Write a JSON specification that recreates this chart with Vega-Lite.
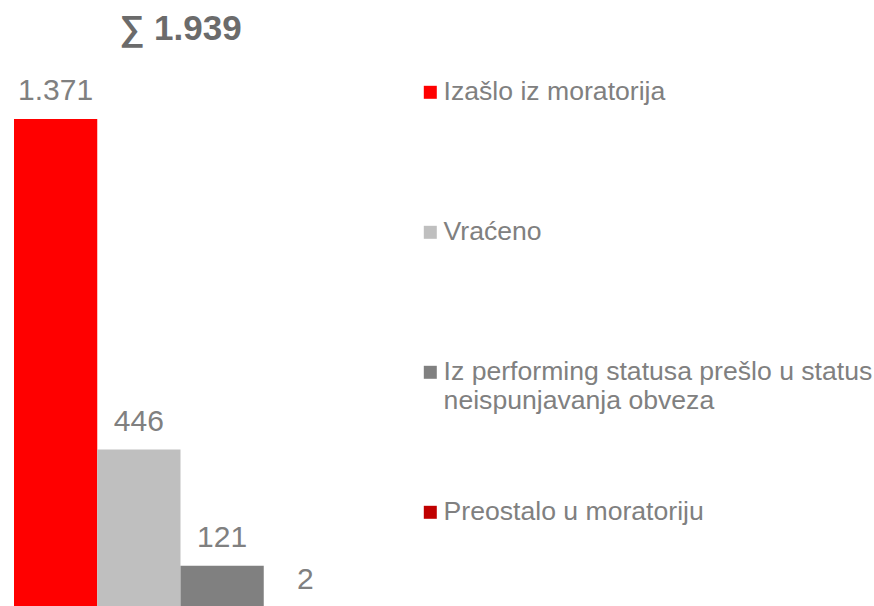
{
  "$schema": "https://vega.github.io/schema/vega-lite/v6.json",
  "width": 333,
  "height": 490,
  "autosize": "none",
  "padding": {"left": 14, "top": 119, "right": 527, "bottom": 0},
  "title": {
    "text": "∑ 1.939",
    "fontSize": 35,
    "fontWeight": "bold",
    "font": "Liberation Sans",
    "color": "#6b6b6b",
    "anchor": "middle",
    "offset": 29
  },
  "data": {
    "values": [
      {"cat": "Izašlo iz moratorija", "value": 1371, "lbl": "1.371"},
      {"cat": "Vraćeno", "value": 446, "lbl": "446"},
      {"cat": "Iz performing statusa prešlo u status neispunjavanja obveza", "value": 121, "lbl": "121"},
      {"cat": "Preostalo u moratoriju", "value": 2, "lbl": "2"}
    ]
  },
  "encoding": {
    "x": {"field": "cat", "type": "nominal", "sort": null, "scale": {"paddingInner": 0, "paddingOuter": 0}, "axis": null},
    "y": {"field": "value", "type": "quantitative", "scale": {"domain": [0, 1371]}, "axis": null}
  },
  "layer": [
    {
      "mark": {"type": "bar"},
      "encoding": {
        "color": {
          "field": "cat",
          "type": "nominal",
          "sort": null,
          "scale": {
            "domain": ["Izašlo iz moratorija", "Vraćeno", "Iz performing statusa prešlo u status neispunjavanja obveza", "Preostalo u moratoriju"],
            "range": ["#ff0000", "#bfbfbf", "#808080", "#c00000"]
          },
          "legend": {
            "title": null,
            "orient": "none",
            "legendX": 403,
            "legendY": -40,
            "direction": "vertical",
            "gridAlign": "all",
            "symbolType": "square",
            "symbolSize": 169,
            "symbolStrokeWidth": 0,
            "labelFont": "Liberation Sans",
            "labelFontSize": 26.6,
            "labelColor": "#808080",
            "labelLimit": 600,
            "labelOffset": 0,
            "rowPadding": 84,
            "labelExpr": "datum.label == 'Iz performing statusa prešlo u status neispunjavanja obveza' ? ['Iz performing statusa prešlo u status', 'neispunjavanja obveza'] : datum.label"
          }
        }
      }
    },
    {
      "mark": {"type": "text", "baseline": "alphabetic", "dy": -19, "font": "Liberation Sans", "fontSize": 30, "color": "#808080"},
      "encoding": {"text": {"field": "lbl"}}
    }
  ],
  "config": {"view": {"stroke": null}}
}
